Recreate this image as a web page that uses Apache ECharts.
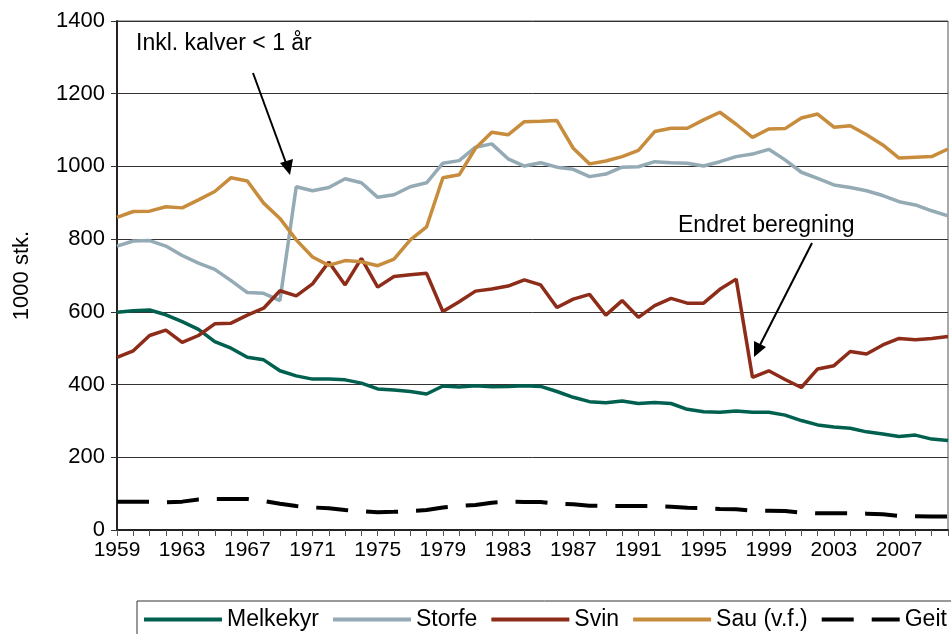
<!DOCTYPE html>
<html>
<head>
<meta charset="utf-8">
<script src="https://cdn.jsdelivr.net/npm/echarts@6/dist/echarts.min.js"></script>
<style>
    html, body { margin: 0; padding: 0; background: #fff; }
    #chart { width: 951px; height: 634px; }
</style>
</head>
<body>
<div id="chart"></div>
<script>
// år 1959-2010
const years = []
for (let y = 1959; y <= 2010; y++) years.push(String(y))

// 1000 stk.
const melkekyr = [599, 603, 605, 592, 573, 552, 518, 500, 475, 468, 438, 424, 415, 415, 413, 404, 388, 385, 381, 374,
    396, 393, 397, 394, 395, 397, 395, 381, 365, 353, 350, 355, 348, 351, 348, 332, 325, 324, 327, 324,
    324, 316, 301, 289, 283, 280, 270, 264, 257, 261, 250, 246]
const storfe = [781, 795, 796, 781, 755, 734, 717, 686, 653, 651, 631, 944, 933, 942, 966, 955, 915, 922, 944, 955,
    1009, 1016, 1053, 1062, 1021, 1001, 1010, 998, 992, 972, 979, 998, 999, 1013, 1010, 1009, 1001, 1013, 1027, 1034,
    1047, 1018, 984, 967, 949, 942, 933, 920, 903, 894, 878, 864]
const svin = [475, 493, 535, 550, 516, 535, 567, 569, 591, 610, 658, 644, 677, 737, 674, 747, 668, 697, 702, 706,
    601, 628, 657, 663, 671, 688, 674, 612, 635, 648, 591, 631, 585, 617, 637, 624, 624, 662, 690, 420,
    438, 414, 392, 443, 452, 491, 484, 509, 527, 523, 527, 532]
const sau = [860, 876, 877, 889, 886, 908, 931, 969, 960, 899, 857, 798, 751, 728, 741, 738, 727, 745, 798, 834,
    969, 977, 1050, 1094, 1087, 1123, 1124, 1126, 1050, 1007, 1015, 1027, 1044, 1096, 1105, 1105, 1128, 1149, 1116, 1080,
    1103, 1104, 1133, 1144, 1108, 1112, 1087, 1059, 1023, 1025, 1027, 1048]
const geit = [78, 78, 78, 76, 78, 84, 85, 85, 85, 80, 72, 66, 62, 60, 55, 52, 49, 50, 52, 55,
    62, 66, 69, 75, 78, 77, 77, 72, 71, 67, 66, 66, 66, 66, 64, 61, 60, 58, 57, 53,
    53, 52, 48, 46, 46, 46, 45, 43, 39, 38, 37, 37]

const font = 'Liberation Sans, Arial, sans-serif'

function lineSeries(name, data, color, type) {
    return {
        name: name,
        type: 'line',
        data: data,
        symbol: 'none',
        lineStyle: { color: color, width: type ? 4 : 3.5, type: type || 'solid' },
        itemStyle: { color: color },
        z: 3
    }
}

const myChart = echarts.init(document.getElementById('chart'))
const options = {
    backgroundColor: '#fff',
    animation: false,
    grid: {
        left: 117,
        right: 3,
        top: 21,
        bottom: 104,
        show: true,
        borderColor: '#555',
        borderWidth: 1
    },
    legend: {
        left: 137,
        top: 601,
        width: 820,
        itemWidth: 78,
        itemHeight: 12,
        itemGap: 12,
        padding: [7, 30, 14, 5],
        borderColor: '#333',
        borderWidth: 1,
        itemStyle: { opacity: 0 }, // bare linja i legenden
        lineStyle: { width: 4 },
        textStyle: { fontFamily: font, fontSize: 23, color: '#000' },
        data: ['Melkekyr', 'Storfe', 'Svin', 'Sau (v.f.)', 'Geit']
    },
    xAxis: {
        type: 'category',
        boundaryGap: false,
        data: years,
        axisLine: { lineStyle: { color: '#222', width: 2 } },
        axisTick: { interval: 0, length: 6, lineStyle: { color: '#555' } },
        axisLabel: {
            interval: 3,
            fontFamily: font,
            fontSize: 21,
            color: '#000',
            margin: 10
        },
        splitLine: { show: false }
    },
    yAxis: {
        type: 'value',
        min: 0,
        max: 1400,
        interval: 200,
        name: '1000 stk.',
        nameLocation: 'middle',
        nameRotate: 90,
        nameGap: 84,
        nameTextStyle: { fontFamily: font, fontSize: 22, color: '#000' },
        axisLine: { show: true, lineStyle: { color: '#2a2020', width: 2 } },
        axisTick: { show: true, length: 6, lineStyle: { color: '#333' } },
        axisLabel: {
            fontFamily: font,
            fontSize: 22,
            color: '#000',
            margin: 12,
            formatter: function (v) { return String(v) }
        },
        splitLine: { lineStyle: { color: '#333', width: 1 } }
    },
    graphic: [
        {
            type: 'text',
            left: 136,
            top: 32,
            style: { text: 'Inkl. kalver < 1 år', font: '23px ' + font, fill: '#000' }
        },
        {
            type: 'text',
            left: 678,
            top: 214,
            style: { text: 'Endret beregning', font: '23px ' + font, fill: '#000' }
        },
        {
            type: 'line',
            shape: { x1: 253, y1: 73, x2: 286, y2: 163 },
            style: { stroke: '#000', lineWidth: 2 },
            z: 10
        },
        {
            type: 'polygon',
            shape: { points: [[290, 175], [280, 163], [293, 159]] },
            style: { fill: '#000' },
            z: 10
        },
        {
            type: 'line',
            shape: { x1: 812, y1: 243, x2: 760, y2: 345 },
            style: { stroke: '#000', lineWidth: 2 },
            z: 10
        },
        {
            type: 'polygon',
            shape: { points: [[754, 357], [754, 341], [766, 347]] },
            style: { fill: '#000' },
            z: 10
        }
    ],
    series: [
        lineSeries('Melkekyr', melkekyr, '#00604f'),
        lineSeries('Storfe', storfe, '#94aab5'),
        lineSeries('Svin', svin, '#8e2c1a'),
        lineSeries('Sau (v.f.)', sau, '#c78c3c'),
        lineSeries('Geit', geit, '#000', [32, 18])
    ]
}
myChart.setOption(options)
</script>
</body>
</html>
